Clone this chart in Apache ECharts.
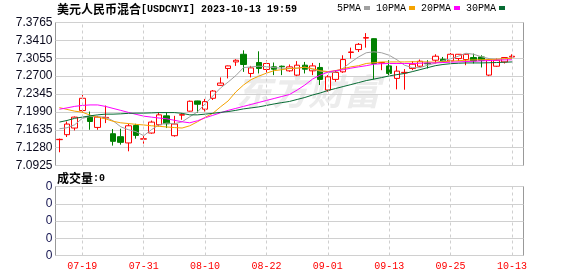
<!DOCTYPE html>
<html><head><meta charset="utf-8">
<script src="https://cdn.jsdelivr.net/npm/echarts@6/dist/echarts.min.js"></script>
<style>html,body{margin:0;padding:0;background:#fff}#c{width:578px;height:276px}</style>
</head><body><div id="c"></div>
<script>
const dates = ['07-14','07-17','07-18','07-19','07-20','07-21','07-24','07-25','07-26','07-27','07-28','07-31','08-01','08-02','08-03','08-04','08-07','08-08','08-09','08-10','08-11','08-14','08-15','08-16','08-17','08-18','08-21','08-22','08-23','08-24','08-25','08-28','08-29','08-30','08-31','09-01','09-04','09-05','09-06','09-07','09-08','09-11','09-12','09-13','09-14','09-15','09-18','09-19','09-20','09-21','09-22','09-25','09-26','09-27','09-28','10-09','10-10','10-11','10-12','10-13'];
const open = [7.1438,7.1537,7.1669,7.2016,7.1898,7.1681,7.1870,7.1556,7.1497,7.1373,7.1720,7.1448,7.1570,7.1734,7.1911,7.1517,7.1925,7.2004,7.2207,7.2043,7.2260,7.2517,7.2852,7.2982,7.3134,7.2753,7.2970,7.2832,7.2884,7.2897,7.2805,7.2720,7.2917,7.2805,7.2872,7.2424,7.2635,7.2785,7.3170,7.3227,7.3455,7.3444,7.2960,7.2903,7.2655,7.2765,7.2852,7.2897,7.2956,7.3016,7.3035,7.3002,7.3049,7.3029,7.3069,7.3081,7.2720,7.2897,7.2982,7.3080];
const close = [7.1445,7.1748,7.1886,7.2260,7.1799,7.1886,7.1880,7.1405,7.1385,7.1714,7.1523,7.1456,7.1787,7.1931,7.1754,7.1748,7.1935,7.2201,7.2141,7.2193,7.2404,7.2562,7.2903,7.3015,7.2931,7.2864,7.2852,7.2951,7.2838,7.2887,7.2884,7.2917,7.2838,7.2903,7.2635,7.2686,7.2773,7.3029,7.3180,7.3331,7.3465,7.2951,7.2970,7.2753,7.2799,7.2775,7.2937,7.2996,7.2945,7.3095,7.2996,7.3134,7.3134,7.3134,7.3002,7.3016,7.3029,7.3016,7.3069,7.3095];
const low = [7.1188,7.1491,7.1621,7.1976,7.1635,7.1635,7.1767,7.1320,7.1339,7.1207,7.1458,7.1359,7.1556,7.1701,7.1669,7.1497,7.1833,7.1995,7.1976,7.1996,7.2227,7.2509,7.2655,7.2903,7.2785,7.2675,7.2753,7.2720,7.2720,7.2720,7.2785,7.2700,7.2753,7.2720,7.2523,7.2391,7.2588,7.2765,7.3049,7.3179,7.3266,7.2635,7.2818,7.2720,7.2438,7.2430,7.2818,7.2884,7.2852,7.2951,7.2982,7.2951,7.2998,7.2917,7.2951,7.2872,7.2700,7.2884,7.2951,7.3049];
const high = [7.1460,7.1799,7.1898,7.2325,7.1996,7.1911,7.2115,7.1649,7.1655,7.1754,7.1754,7.1517,7.1818,7.1984,7.1984,7.1911,7.1965,7.2215,7.2212,7.2247,7.2424,7.2675,7.2910,7.3035,7.3213,7.2903,7.3193,7.3016,7.2970,7.2910,7.2931,7.2998,7.2982,7.2962,7.2962,7.2720,7.2818,7.3114,7.3266,7.3357,7.3554,7.3450,7.2975,7.3016,7.2903,7.2840,7.2998,7.3029,7.3016,7.3134,7.3081,7.3160,7.3140,7.3147,7.3147,7.3114,7.3049,7.3049,7.3075,7.3134];
const ma5 = [7.1655,7.1675,7.1734,7.1862,7.1898,7.1892,7.1886,7.1813,7.1694,7.1635,7.1596,7.1517,7.1635,7.1734,7.1767,7.1754,7.1793,7.1892,7.1990,7.2148,7.2306,7.2463,7.2582,7.2710,7.2868,7.2884,7.2897,7.2887,7.2868,7.2858,7.2852,7.2858,7.2878,7.2838,7.2799,7.2773,7.2779,7.2858,7.2976,7.3081,7.3164,7.3183,7.3164,7.3114,7.3025,7.2917,7.2868,7.2868,7.2917,7.2956,7.3006,7.3045,7.3095,7.3154,7.3134,7.3085,7.3049,7.3035,7.3045,7.3065];
const ma10 = [7.2075,7.2039,7.2004,7.1984,7.1925,7.1886,7.1852,7.1803,7.1773,7.1758,7.1742,7.1730,7.1714,7.1704,7.1690,7.1679,7.1669,7.1714,7.1793,7.1882,7.1960,7.2089,7.2207,7.2385,7.2523,7.2631,7.2700,7.2759,7.2809,7.2828,7.2852,7.2858,7.2878,7.2848,7.2809,7.2789,7.2809,7.2848,7.2884,7.2907,7.2951,7.2966,7.2982,7.2982,7.2982,7.2982,7.2986,7.2986,7.2982,7.2976,7.2986,7.2996,7.3006,7.3016,7.3022,7.3025,7.3029,7.3035,7.3045,7.3055];
const ma20 = [7.2043,7.2069,7.2099,7.2118,7.2128,7.2128,7.2099,7.2059,7.2020,7.1980,7.1941,7.1905,7.1886,7.1868,7.1852,7.1823,7.1793,7.1773,7.1813,7.1872,7.1921,7.1971,7.2020,7.2059,7.2099,7.2138,7.2178,7.2217,7.2256,7.2296,7.2335,7.2424,7.2523,7.2641,7.2720,7.2779,7.2809,7.2828,7.2858,7.2884,7.2907,7.2937,7.2947,7.2951,7.2951,7.2951,7.2951,7.2956,7.2962,7.2962,7.2970,7.2976,7.2982,7.2990,7.2996,7.3002,7.3010,7.3016,7.3022,7.3025];
const ma30 = [7.1787,7.1819,7.1862,7.1886,7.1911,7.1931,7.1945,7.1945,7.1951,7.1961,7.1965,7.1965,7.1970,7.1976,7.1976,7.1976,7.1961,7.1931,7.1931,7.1945,7.1961,7.1980,7.1996,7.2020,7.2049,7.2069,7.2089,7.2118,7.2148,7.2174,7.2197,7.2237,7.2276,7.2325,7.2365,7.2414,7.2454,7.2493,7.2532,7.2572,7.2611,7.2641,7.2671,7.2704,7.2730,7.2753,7.2789,7.2828,7.2868,7.2907,7.2931,7.2947,7.2956,7.2962,7.2962,7.2962,7.2966,7.2970,7.2976,7.2982];
const volume = [0,0,0,0,0,0,0,0,0,0,0,0,0,0,0,0,0,0,0,0,0,0,0,0,0,0,0,0,0,0,0,0,0,0,0,0,0,0,0,0,0,0,0,0,0,0,0,0,0,0,0,0,0,0,0,0,0,0,0,0];
const priceTicks = ['7.0925','7.1280','7.1635','7.1990','7.2345','7.2700','7.3055','7.3410','7.3765'];
const volTicks = ['0','0','0','0','0'];
const xTicks = ['07-19','07-31','08-10','08-22','09-01','09-13','09-25','10-13'];
const titleCn = '美元人民币混合';
const titleEn = '[USDCNYI] 2023-10-13 19:59';
const volCn = '成交量';
const volEn = ':0';
const maNames = ['5PMA','10PMA','20PMA','30PMA'];
const maColors = ['#a0a0a0','#f5a300','#ff00ff','#066b33'];

const cats = dates.concat(['']);
const kData = dates.map((d, i) => [open[i], close[i], low[i], high[i]]);
const richStyle = {
  c: {fontFamily: '"Noto Sans CJK SC"', fontSize: 12, color: '#000'},
  m: {fontFamily: '"Liberation Mono"', fontSize: 10, color: '#000'}
};
const gridLine = {lineStyle: {color: '#d0d0d0', width: 1}};
const vDash = {color: '#cfcfcf', type: [3, 3], width: 1};
const vLines = {symbol: ['none', 'none'], silent: true, animation: false, label: {show: false},
  lineStyle: vDash, emphasis: {disabled: true}, data: xTicks.map(d => ({xAxis: d}))};

const chart = echarts.init(document.getElementById('c'), null, {renderer: 'canvas'});
const maSeries = [ma5, ma10, ma20, ma30].map((arr, k) => ({
  name: maNames[k], type: 'line', xAxisIndex: 0, yAxisIndex: 0, data: arr,
  symbol: 'none', showSymbol: false, smooth: false, z: 4, silent: true,
  lineStyle: {width: 1, color: maColors[k]}, itemStyle: {color: maColors[k]}
}));
chart.setOption({
  animation: false,
  backgroundColor: '#fff',
  title: [
    {left: 57, top: 3, padding: 0, text: '{c|' + titleCn + '}{m|' + titleEn + '}', textStyle: {rich: richStyle}},
    {left: 57, top: 172, padding: 0, text: '{c|' + volCn + '}{m|' + volEn + '}', textStyle: {rich: richStyle}}
  ],
  legend: {
    data: maNames, left: 337, top: 3, padding: 0, itemGap: 6, itemWidth: 6, itemHeight: 4,
    icon: 'rect', align: 'right',
    textStyle: {fontFamily: '"Liberation Mono"', fontSize: 10, color: '#000', padding: [0, -2, 0, 0]}
  },
  graphic: [{
    type: 'text', left: 236, top: 73, z: 0, silent: true,
    style: {text: '东方财富', font: 'italic bold 36px "Noto Sans CJK SC"', fill: '#ececec'}
  }],
  grid: [
    {left: 55.5, top: 22.5, width: 468, height: 143, show: true, borderColor: '#999', borderWidth: 1, backgroundColor: 'transparent'},
    {left: 55.5, top: 186.5, width: 468, height: 69, show: true, borderColor: '#999', borderWidth: 1, backgroundColor: 'transparent'}
  ],
  xAxis: [
    {type: 'category', gridIndex: 0, data: cats, boundaryGap: true,
     axisLine: {show: false}, axisTick: {show: false}, axisLabel: {show: false}, splitLine: {show: false}},
    {type: 'category', gridIndex: 1, data: cats, boundaryGap: true,
     axisLine: {show: false}, axisTick: {show: false}, splitLine: {show: false},
     axisLabel: {interval: (i, v) => xTicks.indexOf(v) >= 0, color: '#ff0000',
       fontFamily: '"Liberation Mono"', fontSize: 10, margin: 6}}
  ],
  yAxis: [
    {type: 'value', gridIndex: 0, show: false, position: 'right', min: 7.0925, max: 7.3765},
    {type: 'value', gridIndex: 0, position: 'left', min: 0, max: 8, interval: 1,
     axisLine: {show: false}, axisTick: {show: false}, splitLine: gridLine,
     axisLabel: {formatter: v => priceTicks[v], color: '#0a0a1e', fontFamily: '"Liberation Sans"', fontSize: 12, margin: 3}},
    {type: 'value', gridIndex: 1, position: 'left', min: 0, max: 4, interval: 1,
     axisLine: {show: false}, axisTick: {show: false}, splitLine: gridLine,
     axisLabel: {formatter: v => volTicks[v], color: '#141450', fontFamily: '"Liberation Sans"', fontSize: 12, margin: 3}},
    {type: 'value', gridIndex: 1, show: false, position: 'right', min: 0, max: 1}
  ],
  series: [
    {name: 'grid0', type: 'line', xAxisIndex: 0, yAxisIndex: 0, data: close, z: 1, silent: true,
     symbol: 'none', showSymbol: false, lineStyle: {opacity: 0, width: 0}, markLine: vLines},
    {name: 'VOL', type: 'bar', xAxisIndex: 1, yAxisIndex: 2, data: volume, barWidth: 5, z: 1, silent: true,
     itemStyle: {color: '#ff0000'}, markLine: vLines},
    {name: 'K', type: 'candlestick', xAxisIndex: 0, yAxisIndex: 0, data: kData, barWidth: 6, z: 3, silent: true,
     itemStyle: {color: '#ffffff', color0: '#008000', borderColor: '#ff0000', borderColor0: '#008000', borderWidth: 1}}
  ].concat(maSeries)
});
</script>
</body></html>
